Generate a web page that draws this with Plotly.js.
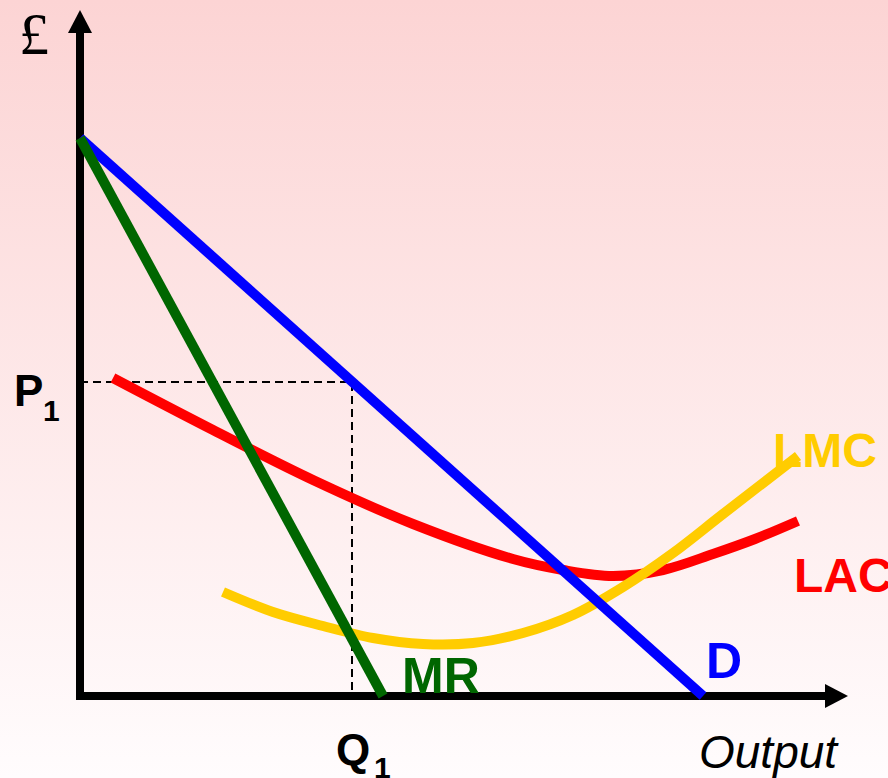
<!DOCTYPE html>
<html>
<head>
<meta charset="utf-8">
<script src="https://cdn.plot.ly/plotly-3.0.1.min.js"></script>
<style>
  html, body { margin: 0; padding: 0; }
  body { width: 888px; height: 778px; background: linear-gradient(to bottom, #fcd4d4 0%, #fffcfd 100%); overflow: hidden; }
  #chart { width: 888px; height: 778px; }
</style>
</head>
<body>
<div id="chart"></div>
<script>
// Demand curve (D) and marginal revenue (MR): straight lines from the price intercept
const demandX = [0, 623];
const demandY = [558, 0];
const mrX = [0, 303];
const mrY = [558, 0];

// Long-run average cost (LAC)
const lacX = [33, 133, 233, 333, 433, 483, 533, 583, 633, 675, 718];
const lacY = [318, 266, 216, 172, 137, 126, 120, 126, 142, 157, 175];

// Long-run marginal cost (LMC)
const lmcX = [143, 193, 243, 293, 343, 393, 443, 493, 543, 593, 643, 718];
const lmcY = [104, 84, 70, 58, 52, 53, 63, 81, 109, 143, 182, 240];

// Profit-maximising point
const Q1 = 272;
const P1 = 314;

// Axis extents
const xAxisEnd = 768;
const yAxisEnd = 686;

const labels = {
  pound: '£', p: 'P', q: 'Q', sub1: '1', output: 'Output',
  mr: 'MR', d: 'D', lmc: 'LMC', lac: 'LAC'
};

const traces = [
  { x: [0, Q1, Q1], y: [P1, P1, 0], mode: 'lines',
    line: { color: '#000000', width: 2, dash: '8px,5px' }, hoverinfo: 'skip' },
  { x: lacX, y: lacY, mode: 'lines', line: { color: '#ff0000', width: 10, shape: 'spline', smoothing: 1 }, hoverinfo: 'skip' },
  { x: lmcX, y: lmcY, mode: 'lines', line: { color: '#ffcc00', width: 10, shape: 'spline', smoothing: 1 }, hoverinfo: 'skip' },
  { x: demandX, y: demandY, mode: 'lines', line: { color: '#0000ff', width: 10 }, hoverinfo: 'skip' },
  { x: mrX, y: mrY, mode: 'lines', line: { color: '#006600', width: 10 }, hoverinfo: 'skip' }
];

const ah = 23, aw = 12;
const shapes = [
  { type: 'line', layer: 'below', x0: 0, y0: -4, x1: 0, y1: yAxisEnd - ah, line: { color: '#000', width: 8 } },
  { type: 'line', layer: 'below', x0: -4, y0: 0, x1: xAxisEnd - ah, y1: 0, line: { color: '#000', width: 8 } },
  { type: 'path', layer: 'below', path: `M ${-aw} ${yAxisEnd - ah} L ${aw} ${yAxisEnd - ah} L 0 ${yAxisEnd} Z`,
    fillcolor: '#000', line: { width: 0 } },
  { type: 'path', layer: 'below', path: `M ${xAxisEnd - ah} ${-aw} L ${xAxisEnd - ah} ${aw} L ${xAxisEnd} 0 Z`,
    fillcolor: '#000', line: { width: 0 } }
];

const sansB = 'Liberation Sans, Arial, sans-serif';
function ann(text, x, y, color, size, extra) {
  return Object.assign({ text: text, x: x, y: y, xref: 'x', yref: 'y', showarrow: false,
    xanchor: 'center', yanchor: 'middle',
    font: { family: sansB, size: size, color: color, weight: 'bold' } }, extra || {});
}

const annotations = [
  ann(labels.pound, -46, 662, '#000', 60, { font: { family: 'Liberation Serif, Times New Roman, serif', size: 60, color: '#000' } }),
  ann(labels.p, -52, 306, '#000', 44),
  ann(labels.sub1, -29, 286, '#000', 30),
  ann(labels.q, 273, -53, '#000', 44),
  ann(labels.sub1, 302, -71, '#000', 30),
  ann(labels.output, 689, -56, '#000', 46, { font: { family: sansB, size: 46, color: '#000', style: 'italic' } }),
  ann(labels.mr, 361, 20, '#006600', 50),
  ann(labels.d, 644, 35, '#0000ff', 50),
  ann(labels.lmc, 745, 246, '#ffcc00', 48),
  ann(labels.lac, 763, 121, '#ff0000', 48)
];

const layout = {
  width: 888, height: 778,
  margin: { l: 0, r: 0, t: 0, b: 0, pad: 0 },
  paper_bgcolor: 'rgba(0,0,0,0)', plot_bgcolor: 'rgba(0,0,0,0)',
  showlegend: false,
  xaxis: { range: [-80, 808], visible: false, fixedrange: true },
  yaxis: { range: [-82, 696], visible: false, fixedrange: true },
  shapes: shapes,
  annotations: annotations
};

Plotly.newPlot('chart', traces, layout, { staticPlot: true, displayModeBar: false });
</script>
</body>
</html>
